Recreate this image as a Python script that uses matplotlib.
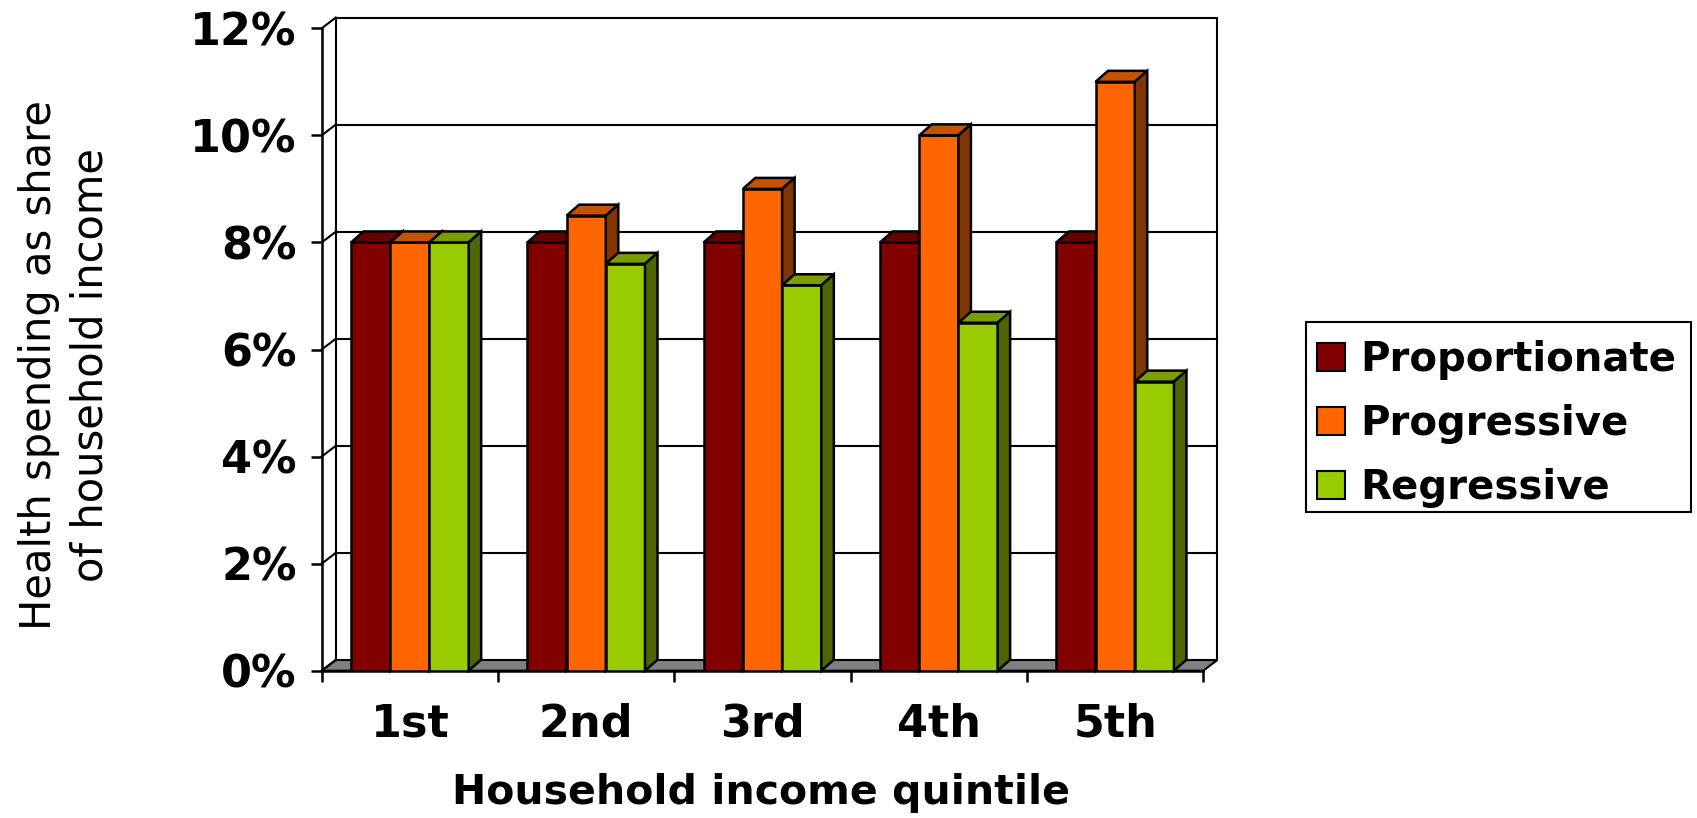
import numpy as np
import matplotlib
matplotlib.use("Agg")
import matplotlib.pyplot as plt
from matplotlib.patches import Polygon, Patch, Rectangle

quintiles = ["1st", "2nd", "3rd", "4th", "5th"]
series_names = ["Proportionate", "Progressive", "Regressive"]
proportionate = [8.0, 8.0, 8.0, 8.0, 8.0]
progressive = [8.0, 8.5, 9.0, 10.0, 11.0]
regressive = [8.0, 7.6, 7.2, 6.5, 5.4]
y_ticks = [0, 2, 4, 6, 8, 10, 12]

front_colors = ["#800000", "#FF6600", "#99CC00"]
top_colors = ["#660000", "#C45200", "#7A9E00"]
side_colors = ["#4D0000", "#833500", "#4D6600"]

W, H, DPI = 1697, 818, 100
plt.rcParams['font.family'] = ['DejaVu Sans']

fig = plt.figure(figsize=(W / DPI, H / DPI), dpi=DPI)
# axes = front plane of the 3-D box
ax = fig.add_axes([321.7 / W, 1 - 670.7 / H, 881.6 / W, 642.4 / H])
n = len(quintiles)
ax.set_xlim(0, n)
ax.set_ylim(0, y_ticks[-1])

# box depth is given in pixels, then turned into data units
px_x = ax.bbox.width / n
px_y = ax.bbox.height / y_ticks[-1]
wall_dx, wall_dy = 14 / px_x, 10.7 / px_y
bar_dx, bar_dy = 12.5 / px_x, 11 / px_y

line_kw = dict(color="black", lw=1.5, clip_on=False, zorder=1)
edge_lw = 1.8

# floor
ax.add_patch(Polygon([(0, 0), (n, 0), (n + wall_dx, wall_dy), (wall_dx, wall_dy)],
                     closed=True, fc="#808080", ec="black", lw=1.5, zorder=1, clip_on=False))

# back wall gridlines and left wall diagonals
for yv in y_ticks:
    if yv > 0:
        ax.plot([wall_dx, n + wall_dx], [yv + wall_dy] * 2, **line_kw)
    ax.plot([0, wall_dx], [yv, yv + wall_dy], **line_kw)
ax.plot([wall_dx] * 2, [wall_dy, y_ticks[-1] + wall_dy], **line_kw)
ax.plot([n + wall_dx] * 2, [wall_dy, y_ticks[-1] + wall_dy], **line_kw)

# bars: front face with ax.bar, then top and side faces
values = [proportionate, progressive, regressive]
x = np.arange(n)
bar_w = 0.2224
for j, vals in enumerate(values):
    lefts = x + 0.5 + (j - 1.5) * bar_w
    z = 3 + j
    ax.bar(lefts, vals, width=bar_w, align="edge", color=front_colors[j],
           edgecolor="black", lw=edge_lw, zorder=z)
    for left, v in zip(lefts, vals):
        right = left + bar_w
        top = [(left, v), (right, v), (right + bar_dx, v + bar_dy), (left + bar_dx, v + bar_dy)]
        side = [(right, 0), (right + bar_dx, bar_dy), (right + bar_dx, v + bar_dy), (right, v)]
        ax.add_patch(Polygon(top, closed=True, fc=top_colors[j], ec="black",
                             lw=edge_lw, zorder=z, clip_on=False, joinstyle="miter"))
        ax.add_patch(Polygon(side, closed=True, fc=side_colors[j], ec="black",
                             lw=edge_lw, zorder=z, clip_on=False, joinstyle="miter"))

# axes, ticks and labels
for s in ["top", "right"]:
    ax.spines[s].set_visible(False)
for s in ["left", "bottom"]:
    ax.spines[s].set_linewidth(1.8)

ax.set_yticks(y_ticks)
ax.set_yticklabels([f"{t}%" for t in y_ticks], fontsize=32, fontweight="bold")
ax.tick_params(axis="y", length=7.9, width=1.8, pad=10)

ax.set_xticks(range(n + 1))
ax.set_xticklabels([])
ax.set_xticks(x + 0.5, minor=True)
ax.set_xticklabels(quintiles, minor=True, fontsize=32, fontweight="bold")
ax.tick_params(axis="x", which="major", length=7.9, width=1.8)
ax.tick_params(axis="x", which="minor", length=0, pad=23)

fig.text(65 / W, 1 - 365 / H, "Health spending as share\nof household income",
         rotation=90, ha="center", va="center", fontsize=30, linespacing=1.3)
fig.text(761 / W, 1 - 793 / H, "Household income quintile",
         ha="center", va="center", fontsize=29.5, fontweight="bold")

# legend entries, with the box drawn on its own so the rows can sit lower in it
handles = [Patch(facecolor=c, edgecolor="black", lw=1.5) for c in front_colors]
fig.legend(handles, series_names, loc="upper left",
           bbox_to_anchor=(1306 / W, 1 - 329.6 / H),
           prop=dict(weight="bold", size=29),
           handlelength=0.7, handleheight=0.7, handletextpad=0.37,
           labelspacing=0.59, borderpad=0.27, borderaxespad=0,
           frameon=False)
fig.patches.append(Rectangle((1306 / W, 1 - 511.5 / H), 385 / W, 189.5 / H,
                             transform=fig.transFigure, fill=False,
                             edgecolor="black", lw=1.5))

fig.savefig("out.png", dpi=DPI)
